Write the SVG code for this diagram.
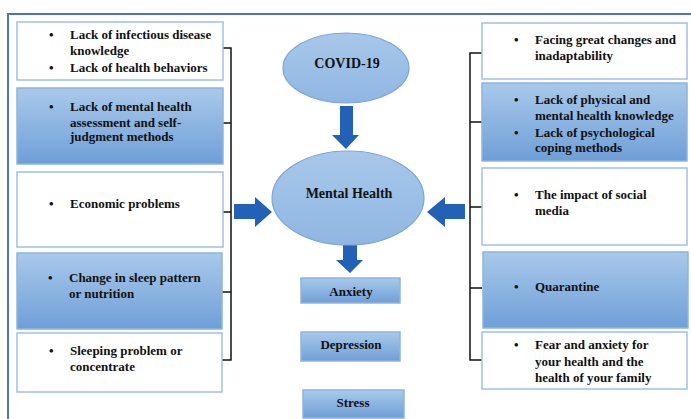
<svg xmlns="http://www.w3.org/2000/svg" width="691" height="419" viewBox="0 0 691 419">
<defs>
<linearGradient id="bg" x1="0" y1="0" x2="0" y2="1">
<stop offset="0" stop-color="#a9c9ea"/>
<stop offset="1" stop-color="#6f9fd8"/>
</linearGradient>
<linearGradient id="eg" x1="0" y1="0" x2="0" y2="1">
<stop offset="0" stop-color="#a8c8ea"/>
<stop offset="1" stop-color="#8fb6e2"/>
</linearGradient>
<style>
text{font-family:"Liberation Serif","Times New Roman",serif;font-weight:bold;fill:#111;}
.t{font-size:13px;}
.c{font-size:14px;text-anchor:middle;}
.s{font-size:13px;text-anchor:middle;}
.w{fill:#fff;stroke:#9fc0e4;stroke-width:1.5;}
.b{fill:url(#bg);stroke:#8eb4df;stroke-width:1.5;}
.e{fill:url(#eg);stroke:#7ea5d5;stroke-width:1.2;}
.br{fill:none;stroke:#111;stroke-width:1.5;}
.ar{fill:#2361b6;}
</style>
</defs>
<rect width="691" height="419" fill="#fff"/>
<path d="M8 419 V14 H691" fill="none" stroke="#4f73c0" stroke-width="2"/>

<g id="connectors">
<path class="br" d="M222 48 H231 V360 H222 M222 123 H231 M222 212 H231 M222 292 H231"/>
<path class="br" d="M482 53 H470 V360 H482 M482 122 H470 M482 207 H470 M482 288 H470"/>
<path class="ar" d="M340 106 H353 V135 H359 L346 149 L332 135 H340 Z"/>
<path class="ar" d="M234 204 H255 V197 L272 212 L255 227 V219 H234 Z"/>
<path class="ar" d="M465 204 H445 V197 L427 212 L445 227 V219 H465 Z"/>
<path class="ar" d="M343 245 H357 V260 H363 L350 273 L336 260 H343 Z"/>
</g>

<g id="l1">
<rect class="w" x="17" y="22" width="206" height="58"/>
<text class="t" x="49" y="39">•</text><text class="t" x="70" y="39">Lack of infectious disease</text>
<text class="t" x="70" y="55">knowledge</text>
<text class="t" x="49" y="72">•</text><text class="t" x="70" y="72">Lack of health behaviors</text>
</g>
<g id="l2">
<rect class="b" x="17" y="88" width="206" height="76"/>
<text class="t" x="49" y="111">•</text><text class="t" x="70" y="111">Lack of mental health</text>
<text class="t" x="70" y="127">assessment and self-</text>
<text class="t" x="70" y="141">judgment methods</text>
</g>
<g id="l3">
<rect class="w" x="17" y="172" width="206" height="75"/>
<text class="t" x="49" y="208">•</text><text class="t" x="70" y="208">Economic problems</text>
</g>
<g id="l4">
<rect class="b" x="17" y="253" width="205" height="76"/>
<text class="t" x="48" y="282">•</text><text class="t" x="69" y="282">Change in sleep pattern</text>
<text class="t" x="69" y="298">or nutrition</text>
</g>
<g id="l5">
<rect class="w" x="17" y="333" width="205" height="59"/>
<text class="t" x="49" y="355">•</text><text class="t" x="70" y="355">Sleeping problem or</text>
<text class="t" x="70" y="371">concentrate</text>
</g>

<g id="r1">
<rect class="w" x="482" y="23" width="205" height="56"/>
<text class="t" x="514" y="44">•</text><text class="t" x="535" y="44">Facing great changes and</text>
<text class="t" x="535" y="60">inadaptability</text>
</g>
<g id="r2">
<rect class="b" x="482" y="83" width="205" height="78"/>
<text class="t" x="514" y="104">•</text><text class="t" x="535" y="104">Lack of physical and</text>
<text class="t" x="535" y="120">mental health knowledge</text>
<text class="t" x="514" y="137">•</text><text class="t" x="535" y="137">Lack of psychological</text>
<text class="t" x="535" y="152">coping methods</text>
</g>
<g id="r3">
<rect class="w" x="482" y="168" width="205" height="77"/>
<text class="t" x="514" y="199">•</text><text class="t" x="535" y="199">The impact of social</text>
<text class="t" x="535" y="215">media</text>
</g>
<g id="r4">
<rect class="b" x="483" y="252" width="205" height="76"/>
<text class="t" x="514" y="291">•</text><text class="t" x="535" y="291">Quarantine</text>
</g>
<g id="r5">
<rect class="w" x="482" y="332" width="205" height="57"/>
<text class="t" x="514" y="349">•</text><text class="t" x="535" y="349">Fear and anxiety for</text>
<text class="t" x="535" y="366">your health and the</text>
<text class="t" x="535" y="382">health of your family</text>
</g>

<g id="covid">
<ellipse class="e" cx="346" cy="68" rx="63" ry="35"/>
<text class="c" x="347" y="68">COVID-19</text>
</g>
<g id="mental">
<ellipse class="e" cx="348" cy="198" rx="76" ry="47"/>
<text class="c" x="349" y="198">Mental Health</text>
</g>
<g id="anxiety">
<rect class="b" x="301" y="278" width="99" height="25"/>
<text class="s" x="351" y="296">Anxiety</text>
</g>
<g id="depression">
<rect class="b" x="301" y="332" width="99" height="29"/>
<text class="s" x="351" y="349">Depression</text>
</g>
<g id="stress">
<rect class="b" x="303" y="390" width="101" height="28"/>
<text class="s" x="353" y="407">Stress</text>
</g>
</svg>
